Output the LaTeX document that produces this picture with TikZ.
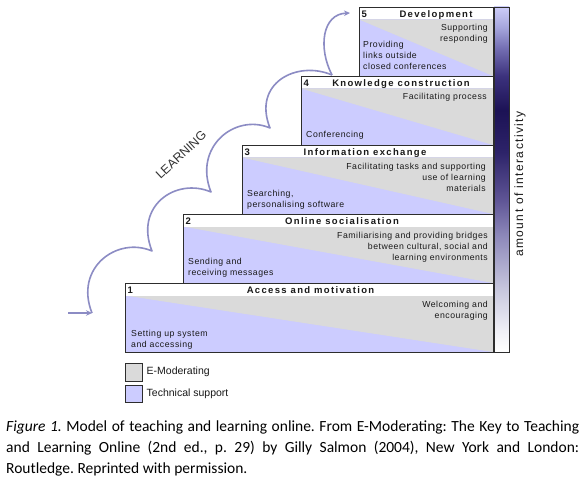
\documentclass[tikz,border=0pt]{standalone}
\usepackage{fontspec}
\setmainfont{Liberation Sans}
\newfontfamily\bodyfont[LetterSpace=6]{Liberation Sans}
\newfontfamily\headfont[LetterSpace=14]{Liberation Sans}
\newfontfamily\sidefont[LetterSpace=12]{Liberation Sans}
\newfontfamily\capfont{Carlito}
\usetikzlibrary{arrows.meta,calc}
\frenchspacing
\definecolor{techblue}{RGB}{204,204,255}
\definecolor{emodgray}{RGB}{218,218,218}
\definecolor{arrowblue}{RGB}{140,140,196}
\definecolor{boxline}{RGB}{45,45,45}
\definecolor{txt}{RGB}{25,25,25}
\definecolor{shA}{RGB}{240,240,246}
\definecolor{shB}{RGB}{200,200,222}
\definecolor{shC}{RGB}{140,135,185}
\definecolor{shD}{RGB}{95,85,150}
\definecolor{shE}{RGB}{45,35,105}
\definecolor{shF}{RGB}{28,18,85}
\definecolor{shG}{RGB}{60,50,125}
\definecolor{shH}{RGB}{115,110,178}
\definecolor{shJ}{RGB}{165,165,220}
\definecolor{shI}{RGB}{205,205,248}
\pgfdeclareverticalshading{interact}{100bp}{color(0bp)=(white); color(25bp)=(white); color(28bp)=(shA); color(34bp)=(shB); color(42bp)=(shC); color(47bp)=(shD); color(54bp)=(shE); color(60bp)=(shF); color(65bp)=(shG); color(69bp)=(shH); color(72bp)=(shJ); color(75bp)=(shI); color(100bp)=(shI)}
\begin{document}
\begin{tikzpicture}[x=1pt,y=-1pt,
  boxedge/.style={draw=boxline, line width=0.8pt},
  headtext/.style={inner sep=0pt, anchor=base, text=txt, font=\headfont\bfseries\fontsize{9.5}{11}\selectfont},
  numtext/.style={inner sep=0pt, anchor=base west, text=txt, font=\bfseries\fontsize{9.5}{11}\selectfont},
  righttext/.style={inner sep=0pt, anchor=north east, align=right, text=txt, font=\bodyfont\fontsize{8.7}{11}\selectfont},
  lefttext/.style={inner sep=0pt, anchor=north west, align=left, text=txt, font=\bodyfont\fontsize{8.7}{11}\selectfont},
  legendtext/.style={inner sep=0pt, anchor=west, text=txt, font=\fontsize{10.5}{12}\selectfont},
  captext/.style={inner sep=0pt, anchor=base west, text=black, font=\capfont\fontsize{15.5}{21}\selectfont},
  learnarrow/.style={draw=arrowblue, line width=1.6pt},
  learntip/.style={-{Stealth[length=6pt,width=5.5pt]}}
]
\useasboundingbox (0,0) rectangle (588,481);
\fill[white] (0,0) rectangle (588,481);

% steps
\foreach \n/\L/\T/\B/\hx/\title in {
  1/125/283/352/310.5/Access and motivation,
  2/183/214/283/342/Online socialisation,
  3/242/145/214/365/Information exchange,
  4/301/76/145/401/Knowledge construction,
  5/359/7/76/436/Development}{
  \fill[techblue] (\L,\T) rectangle (493,\B);
  \fill[emodgray] (\L,\T+12.5) -- (493,\T+12.5) -- (493,\B) -- cycle;
  \fill[white] (\L,\T) rectangle (493,\T+12.5);
  \draw[boxedge] (\L,\T) rectangle (493,\B);
  \node[numtext] (num\n) at (\L+2.5,\T+10.3) {\n};
  \node[headtext] (title\n) at (\hx,\T+10.3) {\title};
}

% body texts
\node[righttext] (r1) at (488,300.6) {Welcoming and\\encouraging};
\node[lefttext] (l1) at (131,329.6) {Setting up system\\and accessing};
\node[righttext] (r2) at (488,232) {Familiarising and providing bridges\\between cultural, social and\\learning environments};
\node[lefttext] (l2) at (188,258) {Sending and\\receiving messages};
\node[righttext] (r3) at (486,163) {Facilitating tasks and supporting\\use of learning\\materials};
\node[lefttext] (l3) at (247,190.3) {Searching,\\personalising software};
\node[righttext] (r4) at (487,93) {Facilitating process};
\node[lefttext] (l4) at (306,130.6) {Conferencing};
\node[righttext] (r5) at (488,24) {Supporting\\responding};
\node[lefttext] (l5) at (363,40.6) {Providing\\links outside\\closed conferences};

% interactivity bar
\shade[shading=interact] (494,7) rectangle (509,352);
\draw[boxedge] (494,7) rectangle (509,352);
\node[inner sep=0pt, rotate=90, text=txt, font=\sidefont\fontsize{12}{14}\selectfont] (inter) at (520,184) {amount of interactivity};

% learning arrow
\coordinate (a0) at (68,313);
\coordinate (c0) at (92,313);
\coordinate (c1) at (152,251);
\coordinate (c2) at (211,192);
\coordinate (c3) at (270,128);
\coordinate (c4) at (332,75);
\coordinate (aend) at (350,13);
\draw[learnarrow, learntip] (a0) -- (c0);
\draw[learnarrow, line join=round]
  (c0) .. controls ($(c0)+(-18,-45)$) and ($(c1)+(-35,-15)$) .. (c1)
       .. controls ($(c1)+(-18,-45)$) and ($(c2)+(-35,-15)$) .. (c2)
       .. controls ($(c2)+(-18,-45)$) and ($(c3)+(-35,-15)$) .. (c3)
       .. controls ($(c3)+(-18,-45)$) and ($(c4)+(-35,-15)$) .. (c4);
\draw[learnarrow, learntip] (c4) .. controls (318,48) and (322,14) .. (aend);
\node[inner sep=0pt, rotate=43, text=black!80, font=\fontsize{12.5}{14}\selectfont] (learn) at (181,155) {LEARNING};

% legend
\draw[boxedge, fill=emodgray] (125,363.3) rectangle (142.7,381);
\draw[boxedge, fill=techblue] (125,385) rectangle (142.7,402.7);
\node[legendtext] (lg1) at (146.5,372.2) {E-Moderating};
\node[legendtext] (lg2) at (146.5,394) {Technical support};

% caption
\node[captext] (cap1) at (6,431) {\makebox[573pt][s]{\textit{Figure 1.} Model of teaching and learning online. From E-Moderating: The Key to Teaching}};
\node[captext] (cap2) at (6,452.5) {\makebox[573pt][s]{and Learning Online (2nd ed., p. 29) by Gilly Salmon (2004), New York and London:}};
\node[captext] (cap3) at (6,473) {Routledge. Reprinted with permission.};
\end{tikzpicture}
\end{document}
